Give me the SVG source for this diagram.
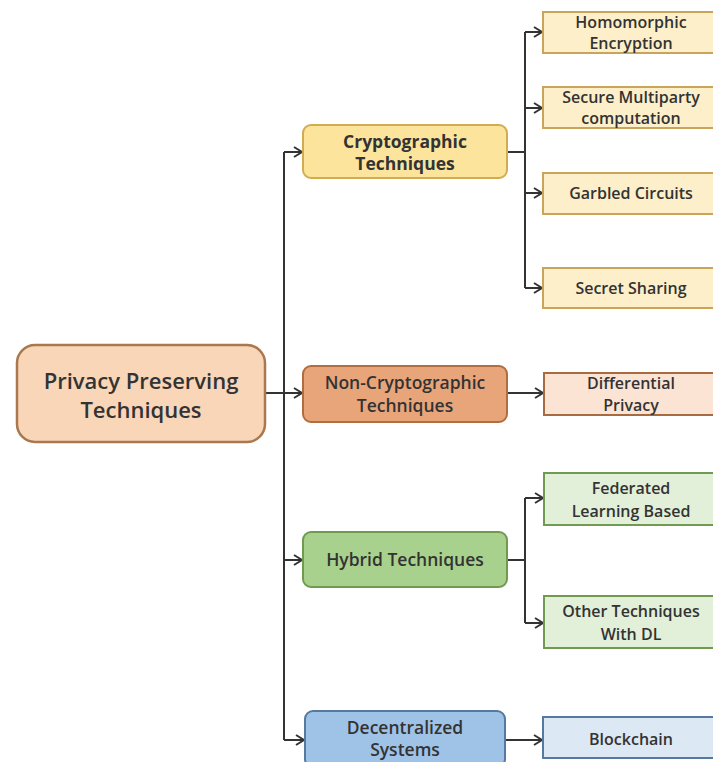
<svg xmlns="http://www.w3.org/2000/svg" width="713" height="762" viewBox="0 0 713 762">
<defs>
<marker id="arr" markerWidth="12" markerHeight="12" refX="10" refY="6" orient="auto" markerUnits="userSpaceOnUse">
<path d="M2,1 L10,6 L2,11" fill="none" stroke="#333" stroke-width="2"/>
</marker>
</defs>
<style>
text{font-family:"Open Sans","Liberation Sans",sans-serif;fill:#333;text-anchor:middle}
.t{font-size:17.5px;font-weight:600}
.leaf{font-size:16px;font-weight:600}
.root{font-size:22px;font-weight:600}
.c{fill:none;stroke:#333;stroke-width:2}
</style>
<rect width="713" height="762" fill="#fff"/>
<g id="connectors">
<path class="c" d="M265,393 H284"/>
<path class="c" d="M284,152 V740"/>
<path class="c" d="M284,152 H302" marker-end="url(#arr)"/>
<path class="c" d="M284,393 H302" marker-end="url(#arr)"/>
<path class="c" d="M284,560 H302" marker-end="url(#arr)"/>
<path class="c" d="M284,740 H304" marker-end="url(#arr)"/>
<path class="c" d="M507,152 H525"/>
<path class="c" d="M525,32 V288"/>
<path class="c" d="M525,32 H542" marker-end="url(#arr)"/>
<path class="c" d="M525,108 H542" marker-end="url(#arr)"/>
<path class="c" d="M525,193 H542" marker-end="url(#arr)"/>
<path class="c" d="M525,288 H542" marker-end="url(#arr)"/>
<path class="c" d="M507,393 H543" marker-end="url(#arr)"/>
<path class="c" d="M507,560 H525"/>
<path class="c" d="M525,498 V623"/>
<path class="c" d="M525,498 H543" marker-end="url(#arr)"/>
<path class="c" d="M525,623 H543" marker-end="url(#arr)"/>
<path class="c" d="M505,740 H542" marker-end="url(#arr)"/>
</g>
<g id="root">
<rect x="17" y="345" width="248" height="97" rx="18" fill="#f9d6b8" stroke="#a9784f" stroke-width="2.5"/>
<text class="root" x="141" y="389">Privacy Preserving</text>
<text class="root" x="141" y="418">Techniques</text>
</g>
<g id="crypto">
<rect x="303" y="125" width="204" height="53" rx="8" fill="#fde49c" stroke="#d1ac50" stroke-width="2"/>
<text class="t" x="405" y="148" style="font-weight:700">Cryptographic</text>
<text class="t" x="405" y="170" style="font-weight:700">Techniques</text>
</g>
<g id="noncrypto">
<rect x="303" y="366" width="204" height="56" rx="8" fill="#e9a57a" stroke="#b06e40" stroke-width="2"/>
<text class="t" x="405" y="389">Non-Cryptographic</text>
<text class="t" x="405" y="412">Techniques</text>
</g>
<g id="hybrid">
<rect x="303" y="532" width="204" height="55" rx="8" fill="#a9d18e" stroke="#6f9a50" stroke-width="2"/>
<text class="t" x="405" y="566">Hybrid Techniques</text>
</g>
<g id="decentral">
<rect x="305" y="711" width="200" height="56" rx="8" fill="#9fc3e7" stroke="#56799f" stroke-width="2"/>
<text class="t" x="405" y="734">Decentralized</text>
<text class="t" x="405" y="756">Systems</text>
</g>
<g id="homomorphic">
<rect x="543" y="12" width="180" height="41" fill="#fdefc9" stroke="#c8a55a" stroke-width="2"/>
<text class="leaf" x="631" y="28">Homomorphic</text>
<text class="leaf" x="631" y="49">Encryption</text>
</g>
<g id="smc">
<rect x="543" y="87" width="180" height="41" fill="#fdefc9" stroke="#c8a55a" stroke-width="2"/>
<text class="leaf" x="631" y="103">Secure Multiparty</text>
<text class="leaf" x="631" y="124">computation</text>
</g>
<g id="garbled">
<rect x="543" y="173" width="180" height="41" fill="#fdefc9" stroke="#c8a55a" stroke-width="2"/>
<text class="leaf" x="631" y="199">Garbled Circuits</text>
</g>
<g id="secret">
<rect x="543" y="268" width="180" height="40" fill="#fdefc9" stroke="#c8a55a" stroke-width="2"/>
<text class="leaf" x="631" y="294">Secret Sharing</text>
</g>
<g id="differential">
<rect x="544" y="373" width="180" height="42" fill="#fce4d5" stroke="#a86a40" stroke-width="2"/>
<text class="leaf" x="631" y="389">Differential</text>
<text class="leaf" x="631" y="411">Privacy</text>
</g>
<g id="federated">
<rect x="544" y="473" width="180" height="52" fill="#e2efd9" stroke="#6f9a50" stroke-width="2"/>
<text class="leaf" x="631" y="494">Federated</text>
<text class="leaf" x="631" y="517">Learning Based</text>
</g>
<g id="otherdl">
<rect x="544" y="596" width="180" height="52" fill="#e2efd9" stroke="#6f9a50" stroke-width="2"/>
<text class="leaf" x="631" y="617">Other Techniques</text>
<text class="leaf" x="631" y="640">With DL</text>
</g>
<g id="blockchain">
<rect x="543" y="717" width="180" height="41" fill="#dde8f5" stroke="#56799f" stroke-width="2"/>
<text class="leaf" x="631" y="745">Blockchain</text>
</g>
</svg>
